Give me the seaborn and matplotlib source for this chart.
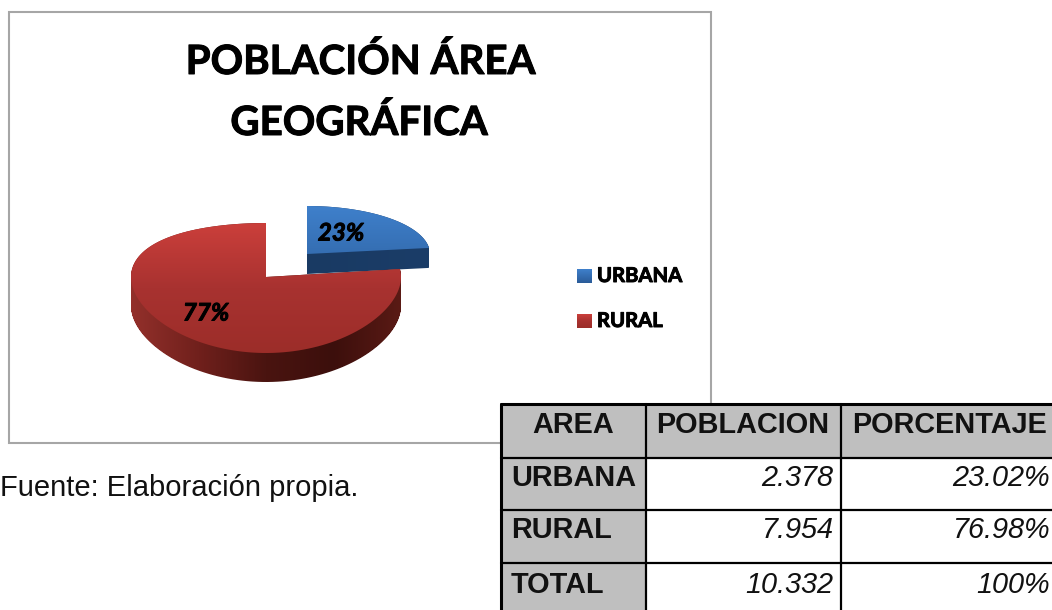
import numpy as np
import matplotlib
matplotlib.use("Agg")
import matplotlib.pyplot as plt
import matplotlib.patheffects as pe
from matplotlib.patches import Rectangle
from matplotlib.path import Path
from matplotlib.transforms import Affine2D, IdentityTransform
import seaborn as sns

# ---------------------------
# DATA
# ---------------------------
areas = ["URBANA", "RURAL"]
poblacion = [2378, 7954]
pie_labels = ["23%", "77%"]

table_header = ["AREA", "POBLACION", "PORCENTAJE"]
table_areas = ["URBANA", "RURAL", "TOTAL"]
table_poblacion = ["2.378", "7.954", "10.332"]
table_porcentaje = ["23.02%", "76.98%", "100%"]

W, H = 1052, 610
TITLE_FONT = "Lato"
TABLE_FONT = "Liberation Sans"
BOLD = [pe.withStroke(linewidth=0.7, foreground="black")]

sns.set_theme(style="white")

red_top = sns.blend_palette(["#9c2d29", "#a83230", "#cb3f3b"], as_cmap=True)
red_side = sns.blend_palette(["#93302b", "#70201c", "#4a1410", "#3c0f0c", "#5a1a15"], as_cmap=True)
blue_top = sns.blend_palette(["#2a5b98", "#3f80cb"], as_cmap=True)
blue_side = sns.blend_palette(["#17375e", "#1b3d68"], as_cmap=True)
VERTICAL = np.linspace(1, 0, 256)[:, None]
HORIZONTAL = np.linspace(0, 1, 256)[None, :]


def gradient(grad, cmap, box, clip=None, zorder=2):
    x0, y0, x1, y1 = box
    im = main.imshow(grad, cmap=cmap, vmin=0, vmax=1, extent=(x0, x1, y1, y0),
                     aspect="auto", zorder=zorder, interpolation="bilinear")
    if clip is not None:
        im.set_clip_path(clip, IdentityTransform())


# ---------------------------
# ONE PIE SLICE WITH DEPTH
# ---------------------------
def draw_slice(idx, cx, cy, rx, ry_top, ry_bot, depth, top_cmap, side_cmap, zorder):
    a = (ry_top + ry_bot) / 2
    b = (ry_bot - ry_top) / 2
    fwd = lambda y: a * y - b * y * y
    inv = lambda v: (a - np.sqrt(np.maximum(a * a - 4 * b * v, 0))) / (2 * b)

    y_lim = (-1.6, 1.3)
    left = cx - 1.3 * rx
    top = cy - fwd(y_lim[1])
    bottom = cy - fwd(y_lim[0])
    ax = fig.add_axes([left / W, 1 - bottom / H, 2.6 * rx / W, (bottom - top) / H])
    ax.patch.set_visible(False)
    ax.set_yscale("function", functions=(fwd, inv))

    wedges, _ = ax.pie(poblacion, startangle=90, counterclock=False, radius=1,
                       colors=["none", "none"])
    ax.set_aspect("auto")
    ax.set_xlim(-1.3, 1.3)
    ax.set_ylim(*y_lim)
    ax.axis("off")

    # outline of the slice in pixels, used to clip the gradients
    wedge = wedges[idx]
    big = wedge.get_patch_transform() + Affine2D().scale(500)
    poly = big.transform_path(wedge.get_path()).to_polygons()[0] / 500
    outline = Path(ax.transData.transform(poly), closed=True)
    layers = [outline.transformed(Affine2D().translate(0, -dy)) for dy in range(depth + 1)]
    side = Path.make_compound_path(*layers)

    box = (cx - rx, cy - ry_top, cx + rx, cy + ry_bot)
    gradient(HORIZONTAL, side_cmap, box[:3] + (box[3] + depth,), side, zorder)
    gradient(VERTICAL, top_cmap, box, outline, zorder + 0.1)


# ---------------------------
# FIGURE
# ---------------------------
fig = plt.figure(figsize=(W / 100, H / 100), dpi=100, facecolor="white")

# pixel coordinates for frame, text and table
main = fig.add_axes([0, 0, 1, 1], zorder=5)
main.axis("off")

main.add_patch(Rectangle((9, 12), 702, 431, fill=False, ec="#a6a6a6", lw=1.5, zorder=1))

main.text(360.5, 74, "POBLACIÓN ÁREA", family=TITLE_FONT, weight="bold", fontsize=29,
          color="black", ha="center", va="baseline", path_effects=BOLD)
main.text(359, 135, "GEOGRÁFICA", family=TITLE_FONT, weight="bold", fontsize=29,
          color="black", ha="center", va="baseline", path_effects=BOLD)

# pie, urban first so the rural slice sits over it
draw_slice(0, 307, 254, 123, 48, 50, 20, blue_top, blue_side, 2)
draw_slice(1, 266, 277, 135, 54, 76, 29, red_top, red_side, 3)

main.text(341, 233, pie_labels[0], family=TITLE_FONT, weight="bold", style="italic",
          fontsize=17.4, color="black", ha="center", va="center", zorder=4, path_effects=BOLD)
main.text(206, 313, pie_labels[1], family=TITLE_FONT, weight="bold", style="italic",
          fontsize=17.4, color="black", ha="center", va="center", zorder=4, path_effects=BOLD)

# legend
legend_y = [276, 321]
legend_cmaps = [blue_top, red_top]
for name, y, cmap in zip(areas, legend_y, legend_cmaps):
    gradient(VERTICAL, cmap, (577, y - 7, 592, y + 7))
    main.text(597, y + 6, name, family=TITLE_FONT, weight="bold", fontsize=14.6,
              color="black", ha="left", va="baseline", path_effects=BOLD)

main.text(0, 496, "Fuente: Elaboración propia.", family=TABLE_FONT, fontsize=21,
          color="#111111", ha="left", va="baseline")

# table
col_x = [501, 646, 841, 1060]
row_y = [404, 458, 510, 563, 620]
main.add_patch(Rectangle((col_x[0], row_y[0]), col_x[-1] - col_x[0], row_y[-1] - row_y[0],
                         fc="white", ec="none", zorder=4.2))
main.add_patch(Rectangle((col_x[0], row_y[1]), col_x[1] - col_x[0], row_y[-1] - row_y[1],
                         fc="#bfbfbf", ec="none", zorder=4.3))
main.add_patch(Rectangle((col_x[0], row_y[0]), col_x[-1] - col_x[0], row_y[1] - row_y[0],
                         fc="#bfbfbf", ec="none", zorder=4.3))
for x in col_x[:-1]:
    main.plot([x, x], [row_y[0], H + 10], color="black", lw=1.6 if x > col_x[0] else 2.2, zorder=4.4)
for y in row_y[:-1]:
    main.plot([col_x[0], W + 10], [y, y], color="black", lw=1.6 if y > row_y[0] else 2.2, zorder=4.4)

header_x = [573, 743, 950]
for name, x in zip(table_header, header_x):
    main.text(x, 433, name, family=TABLE_FONT, weight="bold", fontsize=20.8,
              color="#111111", ha="center", va="baseline", zorder=6)

text_y = [486, 538, 593]
for y, name, pop, pct in zip(text_y, table_areas, table_poblacion, table_porcentaje):
    main.text(511, y, name, family=TABLE_FONT, weight="bold", fontsize=20.8,
              color="#111111", ha="left", va="baseline", zorder=6)
    main.text(833, y, pop, family=TABLE_FONT, style="italic", fontsize=20.8,
              color="#111111", ha="right", va="baseline", zorder=6)
    main.text(1050, y, pct, family=TABLE_FONT, style="italic", fontsize=20.8,
              color="#111111", ha="right", va="baseline", zorder=6)

main.set_xlim(0, W)
main.set_ylim(H, 0)

fig.savefig("out.png", dpi=100)
